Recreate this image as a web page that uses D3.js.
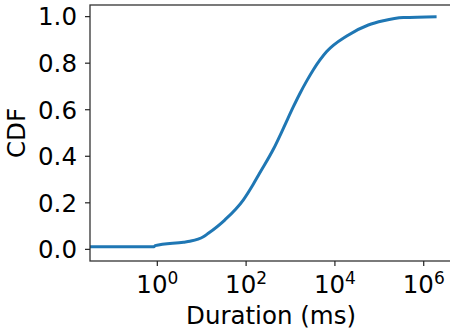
<!DOCTYPE html>
<html>
<head>
<meta charset="utf-8">
<script src="https://cdn.jsdelivr.net/npm/d3@7"></script>
<style>
  body { margin: 0; background: #fff; }
  svg { display: block; font-family: "DejaVu Sans", sans-serif; }
</style>
</head>
<body>
<svg id="chart" width="450" height="330"></svg>
<script>
// CDF of durations (ms, cumulative fraction)
const durations = [0.01, 0.84, 0.89, 3.9, 5.4, 10.9, 14.1, 33, 86, 145, 198, 410, 690,
  1160, 1640, 2320, 3270, 6530, 18500, 56500, 123000, 347000, 1950000];
const cdf = [0.011, 0.011, 0.016, 0.031, 0.035, 0.054, 0.069, 0.126, 0.212, 0.28, 0.325,
  0.43, 0.52, 0.613, 0.671, 0.724, 0.772, 0.850, 0.917, 0.964, 0.982, 0.996, 1.0];
const xTickExps = [0, 2, 4, 6];
const yTicks = [0, 0.2, 0.4, 0.6, 0.8, 1.0];

const mLeft = 90, mTop = 5, plotW = 362, plotH = 256;
const svg = d3.select('#chart');

const x = d3.scaleLog().domain([Math.pow(10, -1.516), Math.pow(10, 6.637)]).range([mLeft, mLeft + plotW]);
const y = d3.scaleLinear().domain([-0.05, 1.05]).range([mTop + plotH, mTop]);

svg.append('clipPath').attr('id', 'clip').append('rect')
  .attr('x', mLeft).attr('y', mTop).attr('width', plotW).attr('height', plotH);

const pts = durations.map((d, i) => [d, cdf[i]]);
const line = d3.line().x(d => x(d[0])).y(d => y(d[1])).curve(d3.curveMonotoneX);

svg.append('path').datum(pts).attr('clip-path', 'url(#clip)')
  .attr('d', line).attr('fill', 'none').attr('stroke', '#1f77b4')
  .attr('stroke-width', 3).attr('stroke-linejoin', 'round');

// spines
svg.append('rect').attr('x', mLeft).attr('y', mTop).attr('width', plotW).attr('height', plotH)
  .attr('fill', 'none').attr('stroke', '#333').attr('stroke-width', 1.3);

// y axis
const yg = svg.append('g');
yg.selectAll('line').data(yTicks).enter().append('line')
  .attr('x1', mLeft - 5).attr('x2', mLeft).attr('y1', d => y(d)).attr('y2', d => y(d))
  .attr('stroke', '#222').attr('stroke-width', 1.2);
yg.selectAll('text').data(yTicks).enter().append('text')
  .attr('x', 77).attr('y', d => y(d)).attr('dy', '0.36em')
  .attr('text-anchor', 'end').attr('font-size', 24.5).attr('fill', '#000')
  .text(d => d.toFixed(1));

// x axis
const xg = svg.append('g');
xg.selectAll('line').data(xTickExps).enter().append('line')
  .attr('x1', d => x(Math.pow(10, d))).attr('x2', d => x(Math.pow(10, d)))
  .attr('y1', mTop + plotH).attr('y2', mTop + plotH + 5)
  .attr('stroke', '#222').attr('stroke-width', 1.2);
const xt = xg.selectAll('text').data(xTickExps).enter().append('text')
  .attr('x', d => x(Math.pow(10, d))).attr('y', 293)
  .attr('text-anchor', 'middle').attr('font-size', 24.5).attr('fill', '#000');
xt.append('tspan').text('10');
xt.append('tspan').attr('dy', -9.5).attr('font-size', 17).text(d => d);

svg.append('text').attr('x', mLeft + plotW / 2).attr('y', 324)
  .attr('text-anchor', 'middle').attr('font-size', 24.5).text('Duration (ms)');

svg.append('text').attr('transform', `translate(25,${mTop + plotH / 2}) rotate(-90)`)
  .attr('text-anchor', 'middle').attr('font-size', 24.5).text('CDF');
</script>
</body>
</html>
